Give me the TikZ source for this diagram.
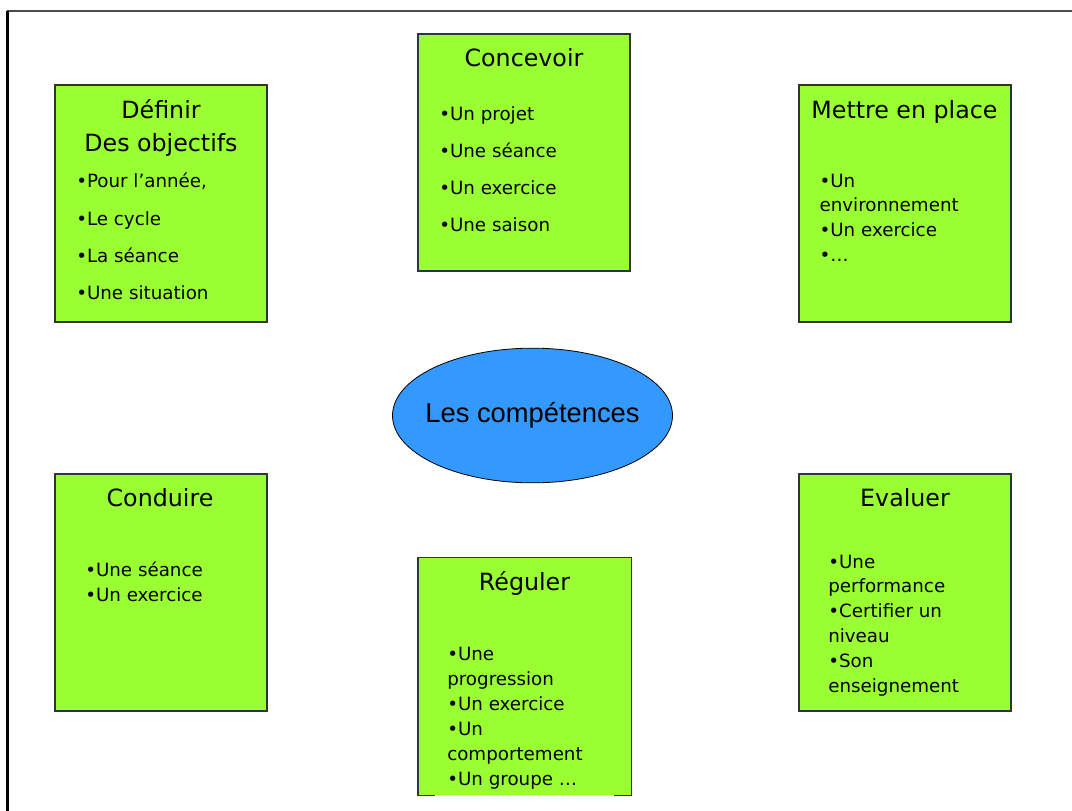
\documentclass[tikz,border=0pt]{standalone}
\usepackage{fontspec}
\setmainfont{DejaVu Sans}
\newfontfamily\arialfont{Liberation Sans}
\usepackage{xcolor}
\usetikzlibrary{shapes.geometric,calc}

\definecolor{boxgreen}{RGB}{153,255,51}
\definecolor{coreblue}{RGB}{51,153,255}

\tikzset{
  task/.style={draw=black!80, fill=boxgreen, line width=0.8pt, inner sep=0pt,
    minimum width=159pt, minimum height=177.75pt},
  tasktitle/.style={anchor=base, inner sep=0pt, font=\fontsize{17.8}{21}\selectfont},
  listline/.style={anchor=base west, inner sep=0pt, font=\fontsize{13.7}{16}\selectfont},
  core/.style={ellipse, draw=black, fill=coreblue, line width=0.6pt, inner sep=0pt,
    minimum width=210pt, minimum height=101pt, font=\arialfont\fontsize{20.5}{24}\selectfont}
}

\begin{document}
\begin{tikzpicture}[x=0.75pt, y=-0.75pt]
        \useasboundingbox (0,0) rectangle (1072,811);
        % page frame
        \draw[black!70, line width=0.8pt] (7,11) -- (1072,11);
        \draw[black, line width=1.6pt] (7.5,11) -- (7.5,811);

        % centre
        \node[core] (comp) at (532.5,415.5) {\makebox[0pt]{Les compétences}};

        % Definir
        \node[task] (def) at (161,203.5) {};
        \node[tasktitle] (def-t1) at (161,118) {Définir};
        \node[tasktitle] (def-t2) at (161,151.5) {Des objectifs};
        \foreach \y/\txt [count=\i] in {187.5/{•Pour l’année,},225/•Le cycle,262/•La séance,299/•Une situation}
            \node[listline] (def-\i) at (76,\y) {\txt};

        % Concevoir
        \node[task] (conc) at (524,152.5) {};
        \node[tasktitle] (conc-t) at (524,66.7) {Concevoir};
        \foreach \y/\txt [count=\i] in {120/•Un projet,157.3/•Une séance,194/•Un exercice,231.7/•Une saison}
            \node[listline] (conc-\i) at (439,\y) {\txt};

        % Mettre en place
        \node[task] (mep) at (905,203.5) {};
        \node[tasktitle] (mep-t) at (904.5,118.3) {Mettre en place};
        \foreach \y/\txt [count=\i] in {187.3/•Un,211.7/environnement,236.7/•Un exercice,261.7/•…}
            \node[listline] (mep-\i) at (819.3,\y) {\txt};

        % Conduire
        \node[task] (cond) at (161,592.5) {};
        \node[tasktitle] (cond-t) at (160,506.7) {Conduire};
        \foreach \y/\txt [count=\i] in {576/•Une séance,601/•Un exercice}
            \node[listline] (cond-\i) at (85,\y) {\txt};

        % Reguler
        \node[task, draw=none] (reg) at (524.5,676.5) {};
        \draw[black!80, line width=0.8pt] ($(reg.south west)+(17,0)$) -- (reg.south west)
            -- (reg.north west) -- (reg.north east) -- (reg.south east) -- ++(-17,0);
        \node[tasktitle] (reg-t) at (524.5,590.7) {Réguler};
        \foreach \y/\txt [count=\i] in {660.7/•Une,685.7/progression,710/•Un exercice,735/•Un,760/comportement,785/•Un groupe …}
            \node[listline] (reg-\i) at (447,\y) {\txt};

        % Evaluer
        \node[task] (eval) at (905,592.5) {};
        \node[tasktitle] (eval-t) at (905,506.7) {Evaluer};
        \foreach \y/\txt [count=\i] in {568.3/•Une,592.7/performance,617.3/•Certifier un,642.7/niveau,667.3/•Son,692.3/enseignement}
            \node[listline] (eval-\i) at (828,\y) {\txt};
    \end{tikzpicture}
\end{document}
